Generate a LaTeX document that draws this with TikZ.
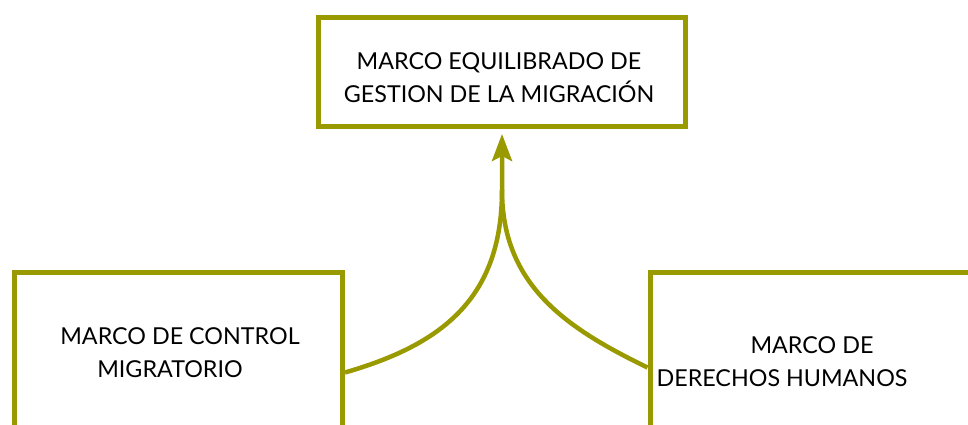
\documentclass[tikz,border=0pt]{standalone}
\usepackage{fontspec}
\setmainfont{Lato}
\usetikzlibrary{arrows.meta}
\definecolor{frameolive}{RGB}{153,153,0}
\begin{document}
\begin{tikzpicture}[x=1pt, y=-1pt,
  box/.style={draw=frameolive, line width=5pt, inner sep=0pt},
  lbl/.style={font=\fontsize{23.3}{33}\selectfont, align=center, inner sep=0pt},
  link/.style={draw=frameolive, line width=4.5pt}]
  \useasboundingbox (0,0) rectangle (968,425);

  % Boxes
  \node[box, minimum width=367pt, minimum height=109pt] (equilibrado) at (502,72) {};
  \node[box, minimum width=328pt, minimum height=200pt] (control) at (178.5,372.5) {};
  \node[box, minimum width=340pt, minimum height=190pt] (derechos) at (820,367.5) {};

  % Texts
  \node[lbl] (equilibradotext) at (499,78) {MARCO EQUILIBRADO DE\\GESTION DE LA MIGRACIÓN};
  \node[lbl] (controltext) at (180,353) {MARCO DE CONTROL\\MIGRATORIO\hspace*{20pt}};
  \node[lbl] (derechostext) at (782,362) {\hspace*{60pt}MARCO DE\\DERECHOS HUMANOS};

  % Curved links
  \coordinate (join) at (502,190);
  \draw[link, -{Stealth[length=27pt, width=20pt, inset=5pt]}, shorten >=5pt]
    (control.east) .. controls (440,345) and (502,300) .. (join) -- (equilibrado.south);
  \draw[link] (derechos.west) .. controls (566,328) and (502,285) .. (join);
\end{tikzpicture}
\end{document}
